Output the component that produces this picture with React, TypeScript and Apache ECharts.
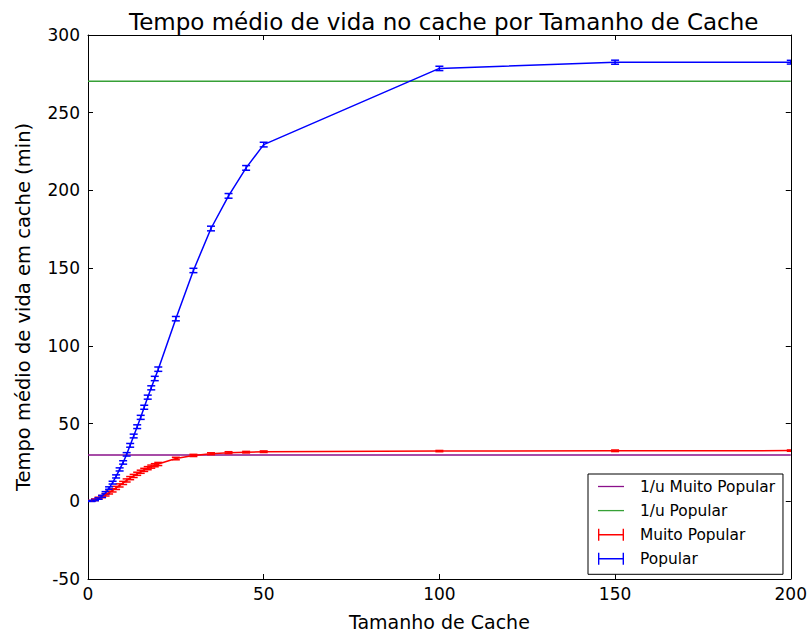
import React, { useEffect, useRef } from "react";
import * as echarts from "echarts";

// Cache sizes (x) for both measured series
const cacheSizes = [1, 2, 3, 4, 5, 6, 7, 8, 9, 10, 11, 12, 13, 14, 15, 16, 17, 18, 19, 20, 25, 30, 35, 40, 45, 50, 100, 150, 200];

// Mean lifetime in cache (min) — "Popular" content
const popularMean = [0.2, 0.8, 1.8, 3.2, 5.5, 8.5, 12, 16, 20.5, 25, 30.2, 36, 42, 48, 54, 60.5, 67, 73, 79, 85, 117.5, 148.5, 175.5, 196.5, 214.5, 229.5, 278.5, 282.5, 282.5];
const popularErr = [0.3, 0.4, 0.5, 0.6, 0.7, 0.8, 0.9, 1, 1, 1.1, 1.1, 1.2, 1.2, 1.2, 1.3, 1.3, 1.3, 1.3, 1.4, 1.4, 1.4, 1.4, 1.5, 1.5, 1.5, 1.5, 1.4, 1.3, 1.2];

// Mean lifetime in cache (min) — "Muito Popular" content
const veryPopularMean = [0.3, 1.0, 2.0, 3.0, 4.2, 5.6, 7.0, 8.6, 10.2, 11.8, 13.4, 14.9, 16.3, 17.7, 19.0, 20.2, 21.3, 22.3, 23.2, 24.0, 27.5, 29.5, 30.6, 31.3, 31.6, 31.9, 32.3, 32.5, 32.6];
const veryPopularErr = [0.3, 0.5, 0.6, 0.7, 0.8, 0.9, 1, 1, 1, 1, 1, 1, 1, 1, 1, 1, 1, 1, 1, 1, 0.8, 0.7, 0.6, 0.6, 0.5, 0.5, 0.4, 0.5, 0.4];

// Reference levels 1/u
const invUVeryPopular = 29.7;
const invUPopular = 270.2;

const xTicks = { min: 0, max: 200, interval: 50 };
const yTicks = { min: -50, max: 300, interval: 50 };

const FONT = "DejaVu Sans";
const BLUE = "#0000ff";
const RED = "#ff0000";
const GREEN = "#36a036";
const PURPLE = "#8a108a";
const LW = 1.5;

const ERRBAR_ICON = "path://M0,0H1.6V6.2H28.4V0H30V14H28.4V7.8H1.6V14H0Z";
const LINE_ICON = "path://M0,0H30V1.5H0Z";

function errorBarSeries(name: string, color: string, means: number[], errs: number[]) {
  const data = cacheSizes.map((x, i) => [x, means[i] - errs[i], means[i] + errs[i]]);
  return {
    type: "custom",
    name,
    clip: true,
    z: 3,
    encode: { x: 0, y: [1, 2] },
    data,
    renderItem: (_params: any, api: any) => {
      const x = api.value(0);
      const lo = api.coord([x, api.value(1)]);
      const hi = api.coord([x, api.value(2)]);
      const hw = 4;
      const style = { stroke: color, lineWidth: LW, fill: "none" };
      return {
        type: "group",
        children: [
          { type: "line", shape: { x1: lo[0], y1: lo[1], x2: hi[0], y2: hi[1] }, style },
          { type: "line", shape: { x1: lo[0] - hw, y1: lo[1], x2: lo[0] + hw, y2: lo[1] }, style },
          { type: "line", shape: { x1: hi[0] - hw, y1: hi[1], x2: hi[0] + hw, y2: hi[1] }, style },
        ],
      };
    },
  };
}

function meanLine(name: string, color: string, means: number[]) {
  return {
    type: "line",
    name,
    z: 3,
    data: cacheSizes.map((x, i) => [x, means[i]]),
    showSymbol: false,
    symbol: "none",
    lineStyle: { color, width: LW },
    itemStyle: { color },
  };
}

function hLine(name: string, color: string, value: number) {
  return {
    type: "line",
    name,
    z: 2,
    data: [
      [xTicks.min, value],
      [xTicks.max, value],
    ],
    showSymbol: false,
    symbol: "none",
    lineStyle: { color, width: LW },
    itemStyle: { color },
  };
}

const axisCommon = {
  axisLine: { show: true, onZero: false, lineStyle: { color: "#000", width: 1 } },
  axisTick: { show: true, inside: true, length: 5, lineStyle: { color: "#000", width: 1 } },
  splitLine: { show: false },
};

export default function App() {
  const ref = useRef<HTMLDivElement>(null);

  useEffect(() => {
    if (!ref.current) return;
    const chart = echarts.init(ref.current, undefined, { renderer: "svg" });
    chart.setOption({
      animation: false,
      backgroundColor: "#fff",
      textStyle: { fontFamily: FONT, color: "#000" },
      title: {
        text: "Tempo médio de vida no cache por Tamanho de Cache",
        left: 124,
        top: 5,
        textStyle: { fontFamily: FONT, fontSize: 23, fontWeight: "normal", color: "#000" },
      },
      grid: { left: 88, top: 35, width: 703, height: 545 },
      legend: {
        orient: "vertical",
        left: 588,
        top: 474,
        padding: [5, 8, 8, 10],
        itemWidth: 26,
        itemHeight: 14,
        itemGap: 9.1,
        borderColor: "#000",
        borderWidth: 1,
        borderRadius: 0,
        backgroundColor: "#fff",
        textStyle: { fontFamily: FONT, fontSize: 15.4, color: "#000", padding: [0, 0, 0, 11] },
        data: [
          { name: "1/u Muito Popular", icon: LINE_ICON, itemStyle: { color: PURPLE } },
          { name: "1/u Popular", icon: LINE_ICON, itemStyle: { color: GREEN } },
          { name: "Muito Popular", icon: ERRBAR_ICON, itemStyle: { color: RED } },
          { name: "Popular", icon: ERRBAR_ICON, itemStyle: { color: BLUE } },
        ],
      },
      xAxis: [
        {
          type: "value",
          position: "bottom",
          ...xTicks,
          ...axisCommon,
          name: "Tamanho de Cache",
          nameLocation: "middle",
          nameGap: 33,
          nameTextStyle: { fontFamily: FONT, fontSize: 19, color: "#000" },
          axisLabel: { fontFamily: FONT, fontSize: 17, color: "#000", margin: 6 },
        },
        {
          type: "value",
          position: "top",
          ...xTicks,
          ...axisCommon,
          axisLabel: { show: false },
        },
      ],
      yAxis: [
        {
          type: "value",
          position: "left",
          ...yTicks,
          ...axisCommon,
          name: "Tempo médio de vida em cache (min)",
          nameLocation: "middle",
          nameGap: 55,
          nameTextStyle: { fontFamily: FONT, fontSize: 19.5, color: "#000" },
          axisLabel: { fontFamily: FONT, fontSize: 17, color: "#000", margin: 8 },
        },
        {
          type: "value",
          position: "right",
          ...yTicks,
          ...axisCommon,
          axisLabel: { show: false },
        },
      ],
      series: [
        hLine("1/u Muito Popular", PURPLE, invUVeryPopular),
        hLine("1/u Popular", GREEN, invUPopular),
        meanLine("Muito Popular", RED, veryPopularMean),
        errorBarSeries("Muito Popular", RED, veryPopularMean, veryPopularErr),
        meanLine("Popular", BLUE, popularMean),
        errorBarSeries("Popular", BLUE, popularMean, popularErr),
      ],
    });
    return () => chart.dispose();
  }, []);

  return <div ref={ref} style={{ width: 810, height: 636, position: "absolute", left: 0, top: 0 }} />;
}
